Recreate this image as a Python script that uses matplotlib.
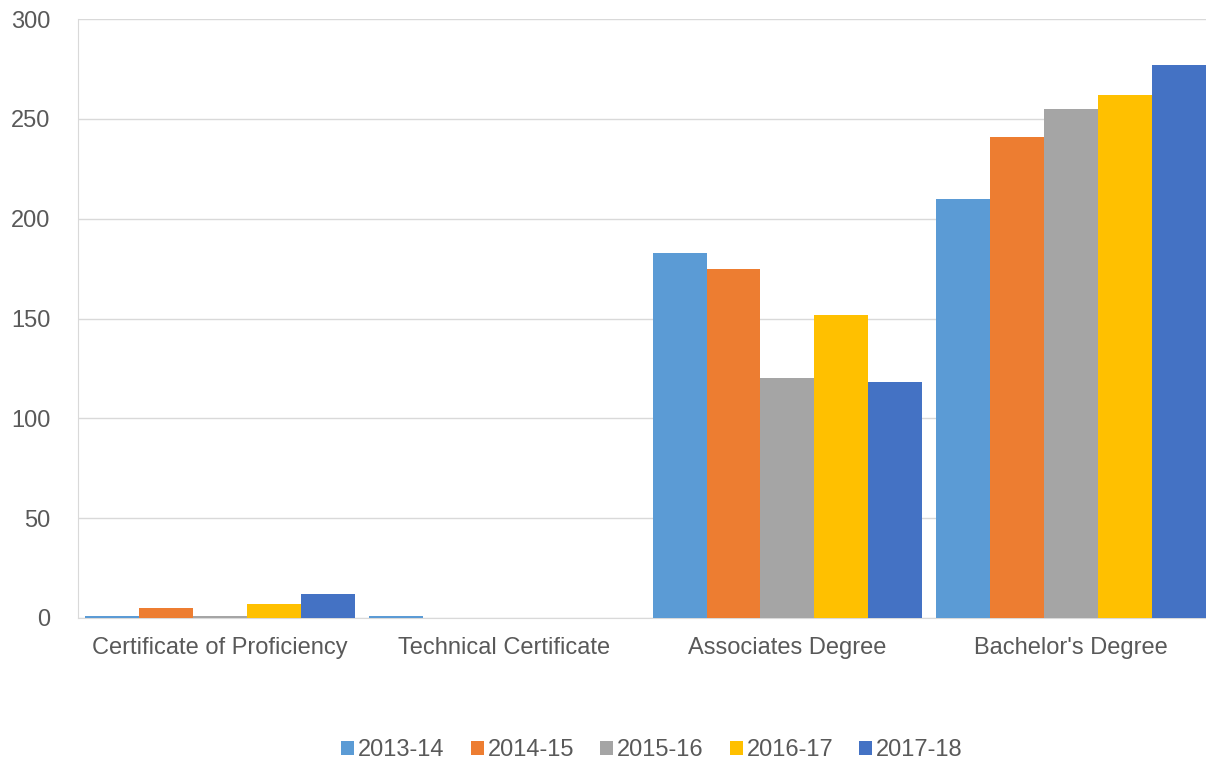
import matplotlib
matplotlib.use("Agg")
import matplotlib.pyplot as plt
import numpy as np

categories = ["Certificate of Proficiency", "Technical Certificate", "Associates Degree", "Bachelor's Degree"]
series_names = ["2013-14", "2014-15", "2015-16", "2016-17", "2017-18"]
v2013 = [1, 1, 183, 210]
v2014 = [5, 0, 175, 241]
v2015 = [1, 0, 120, 255]
v2016 = [7, 0, 152, 262]
v2017 = [12, 0, 118, 277]
values = [v2013, v2014, v2015, v2016, v2017]
colors = ["#5B9BD5", "#ED7D31", "#A5A5A5", "#FFC000", "#4472C4"]
yticks = [0, 50, 100, 150, 200, 250, 300]

plt.rcParams['font.family'] = ['Liberation Sans', 'DejaVu Sans']
fig = plt.figure(figsize=(12.06, 7.67), dpi=100)
ax = fig.add_axes([78/1206, 1-618/767, (1213-78)/1206, (618-19)/767])

x = np.arange(len(categories))
bw = 0.19
n = len(series_names)
for i, (name, vals, c) in enumerate(zip(series_names, values, colors)):
    off = (i - (n-1)/2) * bw
    ax.bar(x + off, vals, width=bw, color=c, label=name, zorder=3)

ax.set_xlim(-0.5, len(categories) - 0.5)
ax.set_ylim(0, 300)
ax.set_yticks(yticks)
ax.set_yticklabels([str(t) for t in yticks], fontsize=17, color="#595959")
ax.set_xticks(x)
ax.set_xticklabels(categories, fontsize=17, color="#595959")
ax.tick_params(axis='x', length=0, pad=14)
ax.tick_params(axis='y', length=0, pad=20)
ax.grid(axis='y', color="#D9D9D9", linewidth=1, zorder=0)
for s in ['top', 'right']:
    ax.spines[s].set_visible(False)
ax.spines['left'].set_color("#D9D9D9")
ax.spines['bottom'].set_color("#D9D9D9")

leg = fig.legend(loc='center', bbox_to_anchor=(652/1206, 1-750/767), ncol=5, frameon=False,
                 fontsize=17, handlelength=0.55, handleheight=0.55, handletextpad=0.17,
                 columnspacing=1.1, labelcolor="#595959")

fig.savefig("out.png", dpi=100)
